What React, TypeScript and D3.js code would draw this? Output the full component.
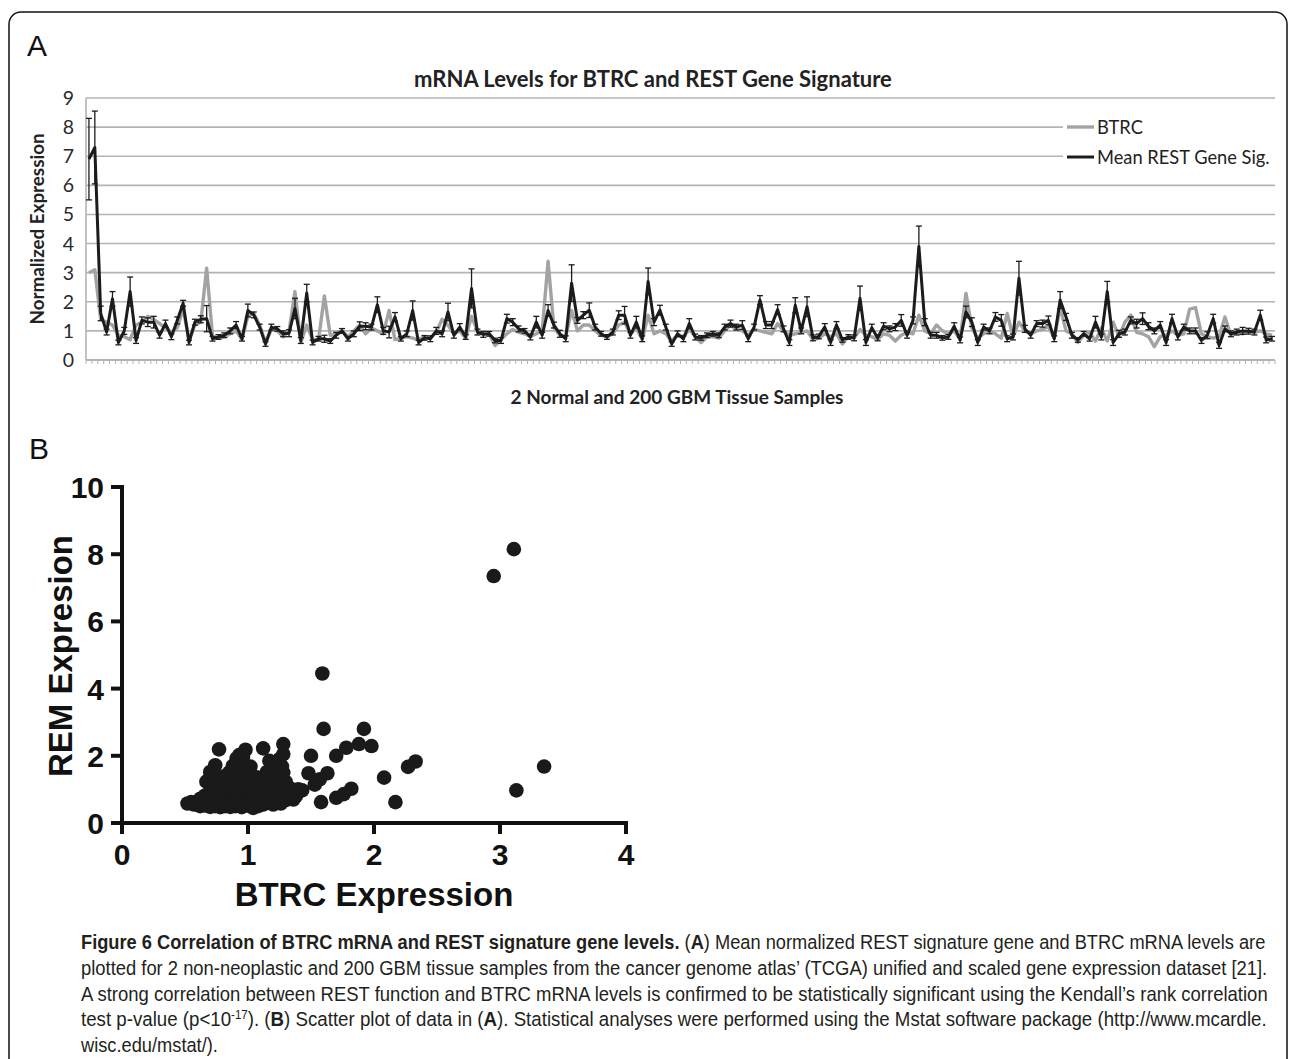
import React, { useLayoutEffect, useRef, useState } from 'react';
import * as d3 from 'd3';

// Panel A: BTRC and mean REST gene signature (2 normal + 200 GBM samples)
const btrc = [
  3.0, 3.1, 1.4, 1.3, 1.2, 0.85, 0.8, 0.7, 1.2, 1.3,
  1.5, 1.4, 1.25, 1.1, 0.95, 1.1, 1.75, 0.7, 1.2, 1.3,
  3.15, 0.8, 0.75, 0.8, 0.9, 1.0, 0.7, 1.5, 1.6, 1.2,
  0.6, 1.05, 1.0, 0.8, 1.0, 2.35, 0.6, 1.2, 0.7, 0.7,
  2.2, 0.85, 0.9, 1.0, 0.8, 1.0, 1.2, 0.9, 1.1, 1.0,
  0.9, 1.7, 0.7, 0.75, 0.8, 0.75, 0.7, 0.8, 0.75, 0.95,
  1.4, 1.2, 0.9, 1.0, 0.75, 1.5, 1.0, 0.9,
  0.9, 0.5, 0.7, 0.9, 1.05, 0.95, 0.9, 0.8, 0.9, 1.0,
  3.39, 1.1, 0.85, 0.8, 1.7, 1.0, 1.2, 1.2, 1.0, 0.85,
  0.8, 0.9, 1.2, 1.3, 0.9, 1.1, 0.7, 1.54, 0.9, 1.0,
  0.9, 0.65, 0.85, 0.8, 1.05, 0.8, 0.6, 0.8, 0.8, 0.75,
  1.0, 1.2, 1.05, 1.0, 0.85, 1.05, 1.0, 0.95, 0.9, 1.25,
  1.0, 0.85, 0.9, 0.95, 1.0, 0.7, 0.75, 0.9, 0.8, 0.9,
  0.55, 0.8, 0.75, 1.05, 0.85, 0.8, 0.7,
  0.9, 0.85, 0.65, 0.85, 0.95, 0.9, 1.54, 1.0, 0.9, 1.2,
  1.0, 0.9, 1.0, 0.7, 2.29, 1.1, 0.75, 0.9, 1.0, 0.9,
  0.75, 1.6, 0.8, 1.3, 1.0, 0.9, 1.0, 1.05, 1.15, 0.75,
  1.8, 1.0, 0.9, 0.6, 0.85, 0.95, 0.65, 1.1, 0.65, 1.3,
  0.8, 1.3, 1.54, 0.95, 0.9, 0.8, 0.46, 0.8, 0.85, 1.0,
  0.85, 0.9, 1.75, 1.8, 0.9, 0.8, 0.75, 0.8, 1.48, 0.85,
  0.95, 0.9, 1.0, 0.95, 1.0, 0.9, 0.85,
];

const rest = [
  6.9, 7.3, 1.6, 0.96, 2.1, 0.6, 1.0, 2.35, 0.67, 1.36,
  1.3, 1.3, 0.85, 1.25, 0.8, 1.36, 1.95, 0.6, 1.3, 1.4,
  1.42, 0.73, 0.79, 0.85, 1.0, 1.2, 0.73, 1.7, 1.55, 1.13,
  0.55, 1.13, 1.07, 0.9, 0.92, 1.77, 0.67, 2.3, 0.6, 0.73,
  0.73, 0.65, 0.85, 1.0, 0.73, 0.9, 1.16, 1.16, 1.13, 1.9,
  1.0, 0.96, 1.48, 0.73, 0.9, 1.7, 0.6, 0.76, 0.73, 1.0,
  0.9, 1.65, 0.85, 1.13, 0.79, 2.46, 0.96, 0.88,
  0.9, 0.67, 0.67, 1.42, 1.3, 1.07, 1.0, 0.79, 1.3, 0.85,
  1.7, 1.2, 0.9, 0.73, 2.64, 1.36, 1.54, 1.71, 1.13, 0.9,
  0.79, 0.96, 1.54, 1.54, 0.85, 1.3, 0.73, 2.7, 1.3, 1.71,
  1.13, 0.55, 0.9, 0.73, 1.25, 0.79, 0.76, 0.85, 0.9, 0.85,
  1.13, 1.25, 1.13, 1.2, 0.73, 1.13, 2.06, 1.2, 1.2, 1.73,
  1.07, 0.6, 1.88, 1.0, 1.83, 0.76, 0.81, 1.13, 0.6, 1.2,
  0.69, 0.79, 0.76, 2.12, 0.6, 1.11, 0.76,
  1.16, 1.07, 1.13, 1.36, 0.85, 1.36, 3.9, 1.3, 0.85, 0.85,
  0.76, 0.79, 1.16, 0.69, 1.65, 1.3, 0.6, 1.13, 1.0, 1.48,
  1.36, 0.73, 0.79, 2.81, 1.07, 0.85, 1.25, 1.25, 1.36, 0.73,
  2.06, 1.48, 0.85, 0.69, 0.9, 0.73, 1.3, 0.79, 2.35, 0.6,
  0.9, 0.96, 1.36, 1.25, 1.42, 1.16, 1.0, 1.2, 0.6, 1.42,
  0.79, 1.13, 1.0, 1.0, 0.67, 0.85, 1.42, 0.5, 1.07, 0.9,
  0.96, 1.0, 0.99, 0.96, 1.54, 0.69, 0.73,
];

const restErr = [
  1.4, 1.25, 0.25, 0.1, 0.25, 0.08, 0.12, 0.5, 0.1, 0.12,
  0.15, 0.2, 0.1, 0.12, 0.1, 0.12, 0.1, 0.08, 0.1, 0.12,
  0.45, 0.08, 0.08, 0.08, 0.1, 0.12, 0.08, 0.22, 0.1, 0.1,
  0.08, 0.1, 0.08, 0.1, 0.12, 0.35, 0.1, 0.3, 0.08, 0.08,
  0.12, 0.08, 0.1, 0.08, 0.08, 0.1, 0.15, 0.12, 0.1, 0.27,
  0.12, 0.2, 0.15, 0.08, 0.1, 0.33, 0.08, 0.08, 0.1, 0.12,
  0.1, 0.3, 0.1, 0.12, 0.08, 0.67, 0.1, 0.1,
  0.08, 0.08, 0.1, 0.15, 0.12, 0.1, 0.08, 0.1, 0.2, 0.1,
  0.2, 0.1, 0.12, 0.1, 0.63, 0.1, 0.12, 0.25, 0.1, 0.08,
  0.08, 0.1, 0.15, 0.3, 0.1, 0.2, 0.1, 0.46, 0.12, 0.17,
  0.1, 0.08, 0.1, 0.1, 0.17, 0.1, 0.08, 0.08, 0.08, 0.08,
  0.1, 0.12, 0.1, 0.15, 0.1, 0.1, 0.15, 0.12, 0.12, 0.17,
  0.1, 0.1, 0.26, 0.1, 0.34, 0.1, 0.08, 0.12, 0.1, 0.12,
  0.08, 0.08, 0.1, 0.42, 0.1, 0.12, 0.1,
  0.12, 0.1, 0.12, 0.2, 0.1, 0.12, 0.7, 0.12, 0.1, 0.1,
  0.08, 0.08, 0.12, 0.1, 0.2, 0.15, 0.1, 0.1, 0.1, 0.15,
  0.2, 0.1, 0.1, 0.58, 0.12, 0.1, 0.1, 0.12, 0.15, 0.1,
  0.29, 0.12, 0.1, 0.08, 0.08, 0.08, 0.2, 0.1, 0.35, 0.1,
  0.12, 0.1, 0.12, 0.15, 0.2, 0.12, 0.1, 0.12, 0.1, 0.15,
  0.1, 0.1, 0.1, 0.1, 0.1, 0.12, 0.15, 0.1, 0.1, 0.1,
  0.1, 0.12, 0.1, 0.1, 0.17, 0.1, 0.08,
];

const yTicksA = [0, 1, 2, 3, 4, 5, 6, 7, 8, 9];
const seriesNames = ['BTRC', 'Mean REST Gene Sig.'];

// Panel B: scatter of BTRC (x) vs REM expression (y)
const scatterBtrc = [
  0.52, 0.57, 0.62, 0.66, 0.7, 0.74, 0.78, 0.82, 0.86, 0.9, 0.95, 1.0, 1.04, 1.08, 1.12, 1.2, 1.26,
  0.55, 0.6, 0.68, 0.72, 0.8, 0.85, 0.92, 0.97, 1.03, 1.1, 1.15, 1.22, 1.3, 1.36,
  0.62, 0.7, 0.76, 0.83, 0.88, 0.94, 1.0, 1.06, 1.13, 1.18, 1.24, 1.33, 1.38,
  0.66, 0.72, 0.78, 0.85, 0.9, 0.96, 1.02, 1.08, 1.16, 1.2, 1.28, 1.35,
  0.7, 0.77, 0.82, 0.88, 0.93, 0.99, 1.05, 1.12, 1.19, 1.25, 1.3,
  0.72, 0.8, 0.86, 0.92, 0.98, 1.03, 1.09, 1.17, 1.22, 1.28, 1.34, 1.4,
  0.75, 0.83, 0.9, 0.96, 1.02, 1.07, 1.15, 1.2, 1.27,
  0.67, 0.78, 0.86, 0.93, 0.99, 1.05, 1.2, 1.26, 1.3,
  0.72, 0.8, 0.88, 0.95, 1.0, 1.07, 1.18, 1.25,
  0.7, 0.85, 0.92, 0.98, 1.15, 1.22, 1.28,
  0.74, 0.88, 0.95, 1.02, 1.2, 1.27,
  0.91, 0.96, 1.17, 1.25,
  0.77, 0.98, 1.12, 1.28, 1.28, 0.93,
  1.5, 1.48, 1.63, 1.53, 1.57, 1.58, 1.7, 1.76, 1.82, 1.43, 1.6, 1.92, 1.88, 1.98, 1.78, 1.7,
  1.59, 2.08, 2.17, 2.27, 2.33, 3.13, 3.35, 2.95, 3.11,
];
const scatterRem = [
  0.58, 0.55, 0.5, 0.52, 0.48, 0.5, 0.47, 0.5, 0.48, 0.5, 0.47, 0.52, 0.45, 0.5, 0.55, 0.55, 0.58,
  0.62, 0.6, 0.63, 0.6, 0.62, 0.6, 0.63, 0.6, 0.62, 0.6, 0.65, 0.62, 0.68, 0.7,
  0.72, 0.7, 0.74, 0.72, 0.7, 0.74, 0.72, 0.7, 0.74, 0.72, 0.75, 0.78, 0.8,
  0.82, 0.85, 0.82, 0.86, 0.84, 0.85, 0.83, 0.86, 0.84, 0.88, 0.85, 0.9,
  0.95, 0.93, 0.97, 0.95, 0.98, 0.94, 0.96, 0.95, 0.97, 0.95, 0.98,
  1.05, 1.03, 1.07, 1.05, 1.08, 1.04, 1.06, 1.05, 1.08, 1.04, 1.02, 1.0,
  1.15, 1.13, 1.17, 1.15, 1.18, 1.14, 1.16, 1.13, 1.17,
  1.23, 1.27, 1.25, 1.28, 1.24, 1.27, 1.25, 1.3, 1.22,
  1.36, 1.38, 1.35, 1.38, 1.4, 1.36, 1.38, 1.42,
  1.52, 1.5, 1.55, 1.5, 1.52, 1.56, 1.5,
  1.72, 1.7, 1.72, 1.68, 1.72, 1.68,
  1.92, 1.95, 1.85, 1.9,
  2.19, 2.18, 2.22, 2.35, 2.05, 2.02,
  2.0, 1.48, 1.48, 1.14, 1.3, 0.62, 0.75, 0.86, 1.02, 0.97, 2.8, 2.8, 2.35, 2.29, 2.24, 2.0,
  4.45, 1.35, 0.62, 1.67, 1.83, 0.97, 1.68, 7.35, 8.15,
];
const xTicksB = [0, 1, 2, 3, 4];
const yTicksB = [0, 2, 4, 6, 8, 10];

// caption: target line widths (px) and baselines
const captionWidths = [1185, 1187, 1187, 1186, 137];
const captionBaselines = [949, 975, 1001, 1026, 1052];

export default function App() {
  const W = 1290;
  const H = 1059;

  const lineRefs = useRef<(SVGTextElement | null)[]>([]);
  const [scales, setScales] = useState<number[]>([0.82, 0.82, 0.82, 0.82, 0.82]);
  useLayoutEffect(() => {
    const s = captionWidths.map((w, i) => {
      const el = lineRefs.current[i];
      if (!el) return 0.82;
      const len = el.getComputedTextLength();
      return len > 0 ? w / len : 0.82;
    });
    setScales(s);
  }, []);

  // ---- Panel A scales
  const idx = d3.range(rest.length);
  const xA = d3.scalePoint<number>().domain(idx).range([86, 1275]).padding(0.5);
  const yA = d3.scaleLinear().domain([0, 9]).range([360, 98]);
  const step = xA.step();
  const line = d3
    .line<number>()
    .x((_, i) => xA(i) as number)
    .y((d) => yA(d))
    .curve(d3.curveLinear);
  const boundaries = d3.range(rest.length + 1).map((k) => 86 + k * step);

  // ---- Panel B scales
  const xB = d3.scaleLinear().domain([0, 4]).range([122, 626]);
  const yB = d3.scaleLinear().domain([0, 10]).range([823, 487]);

  const fA = 'Lato, "Open Sans", sans-serif';
  const fB = '"Liberation Sans", Arial, sans-serif';
  const fC = '"Liberation Sans", Arial, sans-serif';
  const capColor = '#231f20';

  const capLine = (i: number, content: React.ReactNode) => (
    <g key={`cap${i}`} transform={`translate(81, ${captionBaselines[i]}) scale(${scales[i]}, 1)`}>
      <text
        ref={(el) => {
          lineRefs.current[i] = el;
        }}
        x={0}
        y={0}
      >
        {content}
      </text>
    </g>
  );

  return (
    <svg
      width={W}
      height={H}
      viewBox={`0 0 ${W} ${H}`}
      style={{ position: 'absolute', left: 0, top: 0, background: '#fff' }}
    >
      <rect x={0} y={0} width={W} height={H} fill="#fff" />
      <rect x={9} y={12} width={1278} height={1120} rx={12} ry={12} fill="none" stroke="#111" strokeWidth={1.5} />

      {/* ========== Panel A ========== */}
      <text x={27} y={56} fontFamily={fB} fontSize={30} fill="#111">A</text>
      <text x={653} y={87} textAnchor="middle" fontFamily={fA} fontWeight="bold" fontSize={22} fill="#222">
        mRNA Levels for BTRC and REST Gene Signature
      </text>

      {/* gridlines */}
      {yTicksA.filter((t) => t > 0).map((t) => (
        <line key={`g${t}`} x1={86} x2={1275} y1={yA(t)} y2={yA(t)} stroke="#b4b4b4" strokeWidth={1.6} />
      ))}
      {/* axes */}
      <line x1={86} x2={86} y1={yA(9)} y2={yA(0)} stroke="#b4b4b4" strokeWidth={1.6} />
      <line x1={86} x2={1275} y1={yA(0)} y2={yA(0)} stroke="#b4b4b4" strokeWidth={1.8} />
      {boundaries.map((bx, k) => (
        <line key={`t${k}`} x1={bx} x2={bx} y1={yA(0)} y2={yA(0) + 4} stroke="#b4b4b4" strokeWidth={1} />
      ))}
      {yTicksA.map((t) => (
        <text key={`yl${t}`} x={74} y={yA(t) + 7} textAnchor="end" fontFamily={fA} fontSize={19.5} fill="#2a2a2a">
          {t}
        </text>
      ))}
      <text
        transform={`translate(44, 229) rotate(-90)`}
        textAnchor="middle"
        fontFamily={fA}
        fontWeight="bold"
        fontSize={18.8}
        fill="#222"
      >
        Normalized Expression
      </text>
      <text x={677} y={404} textAnchor="middle" fontFamily={fA} fontWeight="bold" fontSize={19} fill="#222">
        2 Normal and 200 GBM Tissue Samples
      </text>

      {/* series */}
      <path d={line(btrc) || ''} fill="none" stroke="#a3a3a3" strokeWidth={3.4} strokeLinejoin="round" />
      <path d={line(rest) || ''} fill="none" stroke="#1c1c1c" strokeWidth={3} strokeLinejoin="round" />
      {rest.map((v, i) => {
        const cx = xA(i) as number;
        const y1 = yA(v + restErr[i]);
        const y2 = yA(v - restErr[i]);
        return (
          <g key={`e${i}`} stroke="#1c1c1c" strokeWidth={1.3}>
            <line x1={cx} x2={cx} y1={y1} y2={y2} />
            <line x1={cx - 3} x2={cx + 3} y1={y1} y2={y1} />
            <line x1={cx - 3} x2={cx + 3} y1={y2} y2={y2} />
          </g>
        );
      })}

      {/* legend */}
      <rect x={1063} y={112} width={212} height={58} fill="#fff" />
      <line x1={1067} x2={1094} y1={127} y2={127} stroke="#a3a3a3" strokeWidth={3.4} />
      <line x1={1067} x2={1094} y1={157} y2={157} stroke="#1c1c1c" strokeWidth={3} />
      <text x={1097} y={134} fontFamily={fA} fontSize={18.3} fill="#222">{seriesNames[0]}</text>
      <text x={1097} y={164} fontFamily={fA} fontSize={18.3} fill="#222">{seriesNames[1]}</text>

      {/* ========== Panel B ========== */}
      <text x={29} y={459} fontFamily={fB} fontSize={30} fill="#111">B</text>

      {scatterBtrc.map((x, i) => (
        <circle key={`p${i}`} cx={xB(x)} cy={yB(scatterRem[i])} r={7.3} fill="#1a1a1a" />
      ))}

      <line x1={122} x2={122} y1={yB(10) - 2} y2={yB(0) + 2} stroke="#111" strokeWidth={4} />
      <line x1={120} x2={628} y1={yB(0)} y2={yB(0)} stroke="#111" strokeWidth={4} />
      {yTicksB.map((t) => (
        <g key={`yb${t}`}>
          <line x1={111} x2={122} y1={yB(t)} y2={yB(t)} stroke="#111" strokeWidth={4} />
          <text x={104} y={yB(t) + 11} textAnchor="end" fontFamily={fB} fontWeight="bold" fontSize={30} fill="#111">
            {t}
          </text>
        </g>
      ))}
      {xTicksB.map((t) => (
        <g key={`xb${t}`}>
          <line x1={xB(t)} x2={xB(t)} y1={823} y2={834} stroke="#111" strokeWidth={4} />
          <text x={xB(t)} y={865} textAnchor="middle" fontFamily={fB} fontWeight="bold" fontSize={30} fill="#111">
            {t}
          </text>
        </g>
      ))}
      <text x={374} y={906} textAnchor="middle" fontFamily={fB} fontWeight="bold" fontSize={33} fill="#111">
        BTRC Expression
      </text>
      <text
        transform={`translate(72, 656) rotate(-90)`}
        textAnchor="middle"
        fontFamily={fB}
        fontWeight="bold"
        fontSize={33}
        fill="#111"
      >
        REM Expresion
      </text>

      {/* ========== Caption ========== */}
      <g fontFamily={fC} fontSize={19.5} fill={capColor}>
        {capLine(
          0,
          <>
            <tspan fontWeight="bold">Figure 6 Correlation of BTRC mRNA and REST signature gene levels.</tspan>
            <tspan> (</tspan>
            <tspan fontWeight="bold">A</tspan>
            <tspan>) Mean normalized REST signature gene and BTRC mRNA levels are</tspan>
          </>
        )}
        {capLine(
          1,
          <tspan>plotted for 2 non-neoplastic and 200 GBM tissue samples from the cancer genome atlas’ (TCGA) unified and scaled gene expression dataset [21].</tspan>
        )}
        {capLine(
          2,
          <tspan>A strong correlation between REST function and BTRC mRNA levels is confirmed to be statistically significant using the Kendall’s rank correlation</tspan>
        )}
        {capLine(
          3,
          <>
            <tspan>test p-value (p&lt;10</tspan>
            <tspan fontSize={12} dy={-7}>-17</tspan>
            <tspan dy={7}>). (</tspan>
            <tspan fontWeight="bold">B</tspan>
            <tspan>) Scatter plot of data in (</tspan>
            <tspan fontWeight="bold">A</tspan>
            <tspan>). Statistical analyses were performed using the Mstat software package (http://www.mcardle.</tspan>
          </>
        )}
        {capLine(4, <tspan>wisc.edu/mstat/).</tspan>)}
      </g>
    </svg>
  );
}
